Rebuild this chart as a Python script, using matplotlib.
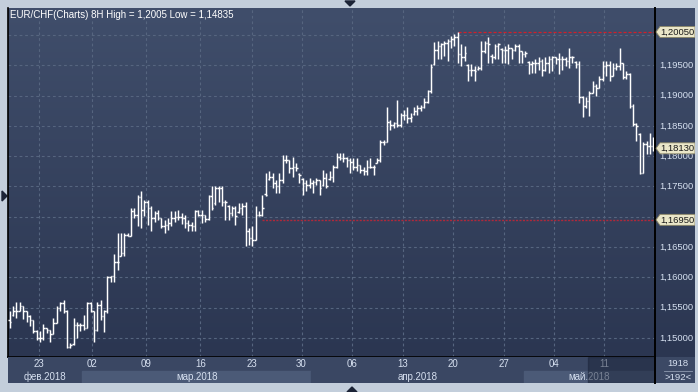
import matplotlib.pyplot as plt
import numpy as np
from matplotlib.colors import LinearSegmentedColormap
from matplotlib.patches import Polygon, Rectangle

plt.rcParams['font.family'] = ['Liberation Sans', 'DejaVu Sans']

# Datos del gráfico (barras de 8 horas)
title = "EUR/CHF(Charts) 8H High = 1,2005 Low = 1,14835"

opens = [
    1.1530, 1.1538, 1.1544, 1.1545, 1.1552, 1.1544, 1.1536, 1.1530, 1.1511, 1.1500,
    1.1500, 1.1516, 1.1514, 1.1507, 1.1525, 1.1550, 1.1558, 1.1544, 1.1485, 1.1490,
    1.1522, 1.1522, 1.1522, 1.1516, 1.1558, 1.1544, 1.1514, 1.1554, 1.1536, 1.1544,
    1.1600, 1.1602, 1.1626, 1.1636, 1.1640, 1.1670, 1.1669, 1.1709, 1.1703, 1.1732,
    1.1712, 1.1725, 1.1714, 1.1698, 1.1706, 1.1698, 1.1684, 1.1687, 1.1690, 1.1698,
    1.1699, 1.1699, 1.1698, 1.1690, 1.1687, 1.1684, 1.1709, 1.1703, 1.1703, 1.1697,
    1.1735, 1.1722, 1.1747, 1.1747, 1.1725,
    1.1718, 1.1706, 1.1714, 1.1708, 1.1714, 1.1717, 1.1676, 1.1665, 1.1662, 1.1703,
    1.1703, 1.1738, 1.1763, 1.1766, 1.1755, 1.1750, 1.1761, 1.1794, 1.1794, 1.1780,
    1.1783, 1.1770, 1.1762, 1.1755, 1.1753, 1.1755, 1.1758, 1.1761, 1.1752, 1.1764,
    1.1762, 1.1766, 1.1783, 1.1799, 1.1797, 1.1797, 1.1794, 1.1791, 1.1783, 1.1786,
    1.1777, 1.1775, 1.1783, 1.1783, 1.1789, 1.1794, 1.1824, 1.1824, 1.1857, 1.1852,
    1.1854, 1.1852, 1.1868, 1.1868, 1.1863, 1.1869, 1.1874, 1.1879, 1.1882, 1.1890,
    1.1907, 1.1952,
    1.1975, 1.1982, 1.1985, 1.1987, 1.1990, 1.1993, 1.1996, 1.1968, 1.1963, 1.1950,
    1.1943, 1.1943, 1.1944, 1.1946, 1.1974, 1.1987, 1.1966, 1.1963, 1.1982, 1.1977,
    1.1976, 1.1976, 1.1979, 1.1976, 1.1982, 1.1974, 1.1968, 1.1955, 1.1952, 1.1954,
    1.1954, 1.1957, 1.1943, 1.1954, 1.1960, 1.1963, 1.1960, 1.1960, 1.1960, 1.1957,
    1.1963, 1.1955, 1.1952, 1.1897, 1.1883, 1.1891, 1.1905, 1.1916, 1.1913, 1.1927,
    1.1949, 1.1950, 1.1932, 1.1946, 1.1949, 1.1954, 1.1930, 1.1935, 1.1883, 1.1853,
    1.1837, 1.1773, 1.1820, 1.1817, 1.1817,
]

highs = [
    1.1544, 1.1552, 1.1559, 1.1559, 1.1552, 1.1544, 1.1538, 1.1530, 1.1514, 1.1511,
    1.1523, 1.1516, 1.1514, 1.1533, 1.1552, 1.1559, 1.1562, 1.1547, 1.1492, 1.1533,
    1.1527, 1.1525, 1.1538, 1.1560, 1.1560, 1.1545, 1.1560, 1.1563, 1.1547, 1.1602,
    1.1603, 1.1638, 1.1673, 1.1673, 1.1673, 1.1673, 1.1714, 1.1714, 1.1736, 1.1743,
    1.1728, 1.1728, 1.1717, 1.1709, 1.1712, 1.1698, 1.1695, 1.1698, 1.1709, 1.1709,
    1.1712, 1.1706, 1.1703, 1.1695, 1.1692, 1.1712, 1.1712, 1.1712, 1.1703, 1.1736,
    1.1750, 1.1750, 1.1750, 1.1750, 1.1728,
    1.1720, 1.1717, 1.1717, 1.1723, 1.1723, 1.1725, 1.1681, 1.1684, 1.1717, 1.1709,
    1.1736, 1.1772, 1.1775, 1.1772, 1.1761, 1.1772, 1.1802, 1.1802, 1.1794, 1.1799,
    1.1788, 1.1772, 1.1764, 1.1761, 1.1764, 1.1761, 1.1764, 1.1761, 1.1777, 1.1772,
    1.1775, 1.1786, 1.1805, 1.1805, 1.1805, 1.1799, 1.1797, 1.1797, 1.1797, 1.1786,
    1.1783, 1.1794, 1.1797, 1.1786, 1.1797, 1.1827, 1.1827, 1.1882, 1.1860, 1.1857,
    1.1893, 1.1871, 1.1876, 1.1882, 1.1871, 1.1882, 1.1885, 1.1885, 1.1896, 1.1909,
    1.1952, 1.1988,
    1.1990, 1.1987, 1.1990, 1.1993, 1.1998, 1.2001, 1.2005, 1.1985, 1.1982, 1.1952,
    1.1952, 1.1949, 1.1949, 1.1990, 1.1990, 1.1996, 1.1968, 1.1985, 1.1987, 1.1979,
    1.1982, 1.1985, 1.1979, 1.1985, 1.1985, 1.1974, 1.1974, 1.1957, 1.1957, 1.1960,
    1.1963, 1.1960, 1.1963, 1.1965, 1.1965, 1.1963, 1.1971, 1.1965, 1.1963, 1.1979,
    1.1965, 1.1957, 1.1957, 1.1899, 1.1897, 1.1908, 1.1924, 1.1919, 1.1932, 1.1957,
    1.1957, 1.1957, 1.1954, 1.1954, 1.1979, 1.1954, 1.1941, 1.1938, 1.1886, 1.1855,
    1.1839, 1.1823, 1.1825, 1.1839, 1.1831,
]

lows = [
    1.1517, 1.1536, 1.1533, 1.1544, 1.1532, 1.1527, 1.1519, 1.1509, 1.1497, 1.1494,
    1.1497, 1.1508, 1.1494, 1.1507, 1.1525, 1.1544, 1.1541, 1.14835, 1.1484, 1.1489,
    1.1500, 1.1511, 1.1514, 1.1516, 1.1543, 1.1494, 1.1511, 1.1530, 1.1510, 1.1541,
    1.1592, 1.1593, 1.1613, 1.1635, 1.1635, 1.1668, 1.1668, 1.1698, 1.1684, 1.1681,
    1.1701, 1.1687, 1.1677, 1.1692, 1.1695, 1.1681, 1.1673, 1.1679, 1.1684, 1.1692,
    1.1695, 1.1688, 1.1681, 1.1677, 1.1676, 1.1676, 1.1701, 1.1690, 1.1692, 1.1695,
    1.1712, 1.1720, 1.1725, 1.1717, 1.1695,
    1.1695, 1.1701, 1.1687, 1.1706, 1.1703, 1.1651, 1.1654, 1.1651, 1.1662, 1.1701,
    1.1701, 1.1734, 1.1761, 1.1747, 1.1739, 1.1739, 1.1755, 1.1788, 1.1772, 1.1766,
    1.1775, 1.1755, 1.1736, 1.1742, 1.1747, 1.1739, 1.1753, 1.1736, 1.1750, 1.1747,
    1.1761, 1.1758, 1.1780, 1.1794, 1.1791, 1.1783, 1.1772, 1.1777, 1.1775, 1.1772,
    1.1769, 1.1769, 1.1780, 1.1769, 1.1788, 1.1791, 1.1819, 1.1824, 1.1843, 1.1846,
    1.1849, 1.1849, 1.1860, 1.1854, 1.1857, 1.1868, 1.1868, 1.1874, 1.1879, 1.1887,
    1.1904, 1.1950,
    1.1960, 1.1960, 1.1965, 1.1957, 1.1979, 1.1982, 1.1954, 1.1949, 1.1957, 1.1924,
    1.1932, 1.1924, 1.1943, 1.1943, 1.1971, 1.1954, 1.1954, 1.1960, 1.1960, 1.1954,
    1.1954, 1.1952, 1.1960, 1.1974, 1.1954, 1.1954, 1.1963, 1.1935, 1.1938, 1.1938,
    1.1943, 1.1932, 1.1941, 1.1938, 1.1941, 1.1952, 1.1935, 1.1943, 1.1949, 1.1946,
    1.1954, 1.1946, 1.1888, 1.1864, 1.1880, 1.1866, 1.1905, 1.1899, 1.1913, 1.1924,
    1.1932, 1.1924, 1.1932, 1.1943, 1.1943, 1.1927, 1.1927, 1.1880, 1.1850, 1.1825,
    1.1770, 1.1773, 1.1803, 1.1803, 1.1809,
]

closes = [
    1.1527, 1.1544, 1.1545, 1.1552, 1.1544, 1.1536, 1.1530, 1.1511, 1.1500, 1.1500,
    1.1516, 1.1514, 1.1507, 1.1525, 1.1550, 1.1558, 1.1544, 1.1485, 1.1488, 1.1522,
    1.1522, 1.1522, 1.1516, 1.1558, 1.1544, 1.1514, 1.1554, 1.1536, 1.1544, 1.1600,
    1.1602, 1.1626, 1.1626, 1.1640, 1.1670, 1.1669, 1.1709, 1.1703, 1.1732, 1.1712,
    1.1725, 1.1714, 1.1698, 1.1706, 1.1698, 1.1684, 1.1687, 1.1690, 1.1698, 1.1699,
    1.1699, 1.1698, 1.1690, 1.1687, 1.1684, 1.1709, 1.1703, 1.1703, 1.1697, 1.1735,
    1.1714, 1.1747, 1.1747, 1.1725, 1.1725,
    1.1706, 1.1714, 1.1701, 1.1714, 1.1717, 1.1676, 1.1665, 1.1662, 1.1703, 1.1703,
    1.1714, 1.1736, 1.1766, 1.1755, 1.1750, 1.1761, 1.1794, 1.1794, 1.1780, 1.1783,
    1.1780, 1.1769, 1.1755, 1.1753, 1.1755, 1.1758, 1.1761, 1.1747, 1.1764, 1.1750,
    1.1766, 1.1783, 1.1799, 1.1797, 1.1797, 1.1794, 1.1791, 1.1783, 1.1786, 1.1777,
    1.1775, 1.1783, 1.1783, 1.1783, 1.1794, 1.1824, 1.1824, 1.1857, 1.1852, 1.1854,
    1.1852, 1.1868, 1.1868, 1.1863, 1.1865, 1.1874, 1.1879, 1.1882, 1.1890, 1.1907,
    1.1948, 1.1975,
    1.1982, 1.1985, 1.1987, 1.1990, 1.1993, 1.1996, 1.1968, 1.1963, 1.1971, 1.1943,
    1.1943, 1.1941, 1.1946, 1.1974, 1.1987, 1.1985, 1.1963, 1.1982, 1.1985, 1.1976,
    1.1976, 1.1979, 1.1976, 1.1982, 1.1974, 1.1968, 1.1971, 1.1952, 1.1954, 1.1954,
    1.1957, 1.1943, 1.1954, 1.1960, 1.1963, 1.1960, 1.1960, 1.1960, 1.1957, 1.1963,
    1.1963, 1.1952, 1.1897, 1.1883, 1.1891, 1.1905, 1.1916, 1.1913, 1.1927, 1.1949,
    1.1950, 1.1932, 1.1946, 1.1949, 1.1954, 1.1930, 1.1935, 1.1883, 1.1853, 1.1850,
    1.1773, 1.1820, 1.1817, 1.1817, 1.1813,
]

day_ticks = [8.6, 24.5, 40.4, 56.6, 71.8, 86.6, 101.7, 116.7, 131.6, 146.6, 161.6, 176.4]
day_labels = ["23", "02", "09", "16", "23", "30", "06", "13", "20", "27", "04", "11"]
months = ["фев.2018", "мар.2018", "апр.2018", "май.2018"]
month_edges = [-0.5, 21.5, 89.5, 152.5, 191.5]
price_ticks = [1.150, 1.155, 1.160, 1.165, 1.170, 1.175, 1.180, 1.185, 1.190, 1.195, 1.200]
tag_levels = [1.2005, 1.1813, 1.1695]
tag_labels = ["1,20050", "1,18130", "1,16950"]
high_line_start = 133
level_line_start = 75
bar_count_labels = ["1918", ">192<"]

# Colores
FRAME = '#c3cedb'
BG_TOP = '#404e6b'
BG_BOT = '#2b3651'
GRID = '#56657f'
TXT = '#d6e0f0'
TAG = '#ebe7c9'

W, H = 698, 392
fig = plt.figure(figsize=(W / 100, H / 100), dpi=100, facecolor=FRAME)

ymin, ymax = 1.146865, 1.204455
px = (ymax - ymin) / 349.0  # precio por pixel


def px_axes(x0, y0, w, h):
    return fig.add_axes([x0 / W, 1 - (y0 + h) / H, w / W, h / H])


# Fondo general con pequeños triángulos de marco
bg = fig.add_axes([0, 0, 1, 1], zorder=-5)
bg.set_xlim(0, W)
bg.set_ylim(H, 0)
bg.axis('off')
bg.add_patch(Polygon([(345, 1), (355, 1), (350, 6)], color='#1b2336'))
bg.add_patch(Polygon([(2, 191), (2, 201), (7, 196)], color='#1b2336'))
bg.add_patch(Polygon([(347, 392), (357, 392), (352, 387)], color='#1b2336'))

cmap = LinearSegmentedColormap.from_list('bg', [BG_BOT, BG_TOP])
grad = np.linspace(0, 1, 256).reshape(-1, 1)

# Gráfico principal
ax = px_axes(8, 8, 647, 349)
n = len(closes)
x = np.arange(n)
ax.imshow(grad, extent=[-0.5, n - 0.5, ymin, ymax], origin='lower',
          aspect='auto', cmap=cmap, zorder=0)
ax.set_xlim(-0.5, n - 0.5)
ax.set_ylim(ymin, ymax)
for p in price_ticks:
    ax.axhline(p, color=GRID, lw=0.8, ls=(0, (2.5, 2.5)), zorder=1)
for d in day_ticks:
    ax.axvline(d, color=GRID, lw=0.8, ls=(0, (2.5, 2.5)), zorder=1)

ax.hlines(highs[high_line_start], high_line_start, n - 0.5, color='#d0202a',
          lw=0.9, ls=(0, (2.5, 1.5)), zorder=2)
ax.hlines(tag_levels[2], level_line_start, n - 0.5, color='#b0283a',
          lw=1.0, ls=(0, (1.5, 1.0)), zorder=2)

ax.vlines(x, lows, highs, color='white', lw=1.05, zorder=3)
ax.hlines(opens, x - 0.45, x, color='white', lw=1.05, zorder=3)
ax.hlines(closes, x, x + 0.45, color='white', lw=1.05, zorder=3)

ax.set_xticks([])
ax.set_yticks([])
for s in ['top', 'right']:
    ax.spines[s].set_visible(False)
for s in ['left', 'bottom']:
    ax.spines[s].set_color('black')
    ax.spines[s].set_linewidth(1.2)

fig.text(10 / W, 1 - 15 / H, title, color='white', fontsize=7, va='center', ha='left')

# Escala de precios a la derecha (las etiquetas tapadas del todo se omiten)
ax2 = px_axes(655, 8, 40, 349)
ax2.imshow(grad, extent=[0, 40, ymin, ymax], origin='lower', aspect='auto', cmap=cmap, zorder=0)
ax2.set_xlim(0, 40)
ax2.set_ylim(ymin, ymax)
ax2.set_xticks([])
ax2.set_yticks([])
for s in ['top', 'right', 'bottom']:
    ax2.spines[s].set_visible(False)
ax2.spines['left'].set_color('black')
ax2.spines['left'].set_linewidth(1.4)
h = 5.5 * px
for p in price_ticks:
    if min(abs(p - t) for t in tag_levels) < h:
        continue
    ax2.text(4, p, f"{p:.5f}".replace('.', ','), color=TXT, fontsize=6.8,
             va='center', ha='left', zorder=2)
for lvl, lab in zip(tag_levels, tag_labels):
    ax2.add_patch(Polygon([(1, lvl), (5, lvl + h), (40, lvl + h), (40, lvl - h), (5, lvl - h)],
                          closed=True, fc=TAG, ec='#8a8566', lw=0.6, zorder=4))
    ax2.text(5.5, lvl, lab, color='#1a1a1a', fontsize=6.8, va='center', ha='left', zorder=5)

# Eje de fechas inferior
ax3 = px_axes(8, 357, 647, 26)
ax3.set_xlim(-0.5, n - 0.5)
ax3.set_ylim(0, 26)
ax3.set_xticks([])
ax3.set_yticks([])
for s in ax3.spines.values():
    s.set_visible(False)
ax3.add_patch(Rectangle((-0.5, 12), n, 14, color='#3a4763', zorder=0))
for i, m in enumerate(months):
    c = '#4b5a77' if i % 2 else '#3a4763'
    ax3.add_patch(Rectangle((month_edges[i], 0), month_edges[i + 1] - month_edges[i], 12,
                            color=c, zorder=0))
    ax3.text((month_edges[i] + month_edges[i + 1]) / 2, 6, m, color=TXT, fontsize=7,
             ha='center', va='center', zorder=1)
for d, lab in zip(day_ticks, day_labels):
    ax3.text(d, 19, lab, color=TXT, fontsize=7, ha='center', va='center', zorder=1)
ax3.add_patch(Rectangle((171.6, 0), n - 0.5 - 171.6, 26, color='#1a2338', alpha=0.5, zorder=2))

# Contador de barras
ax4 = px_axes(655, 357, 40, 26)
ax4.set_xlim(0, 40)
ax4.set_ylim(0, 26)
ax4.set_facecolor('#3c4965')
ax4.set_xticks([])
ax4.set_yticks([])
for s in ['top', 'right', 'bottom']:
    ax4.spines[s].set_visible(False)
ax4.spines['left'].set_color('black')
ax4.spines['left'].set_linewidth(1.4)
ax4.plot([9, 37], [12.5, 12.5], color='#8e9ab0', lw=0.6)
ax4.text(23, 19, bar_count_labels[0], color=TXT, fontsize=6.8, ha='center', va='center')
ax4.text(23, 6, bar_count_labels[1], color=TXT, fontsize=6.8, ha='center', va='center')

fig.savefig('out.png', dpi=100, facecolor=FRAME)
